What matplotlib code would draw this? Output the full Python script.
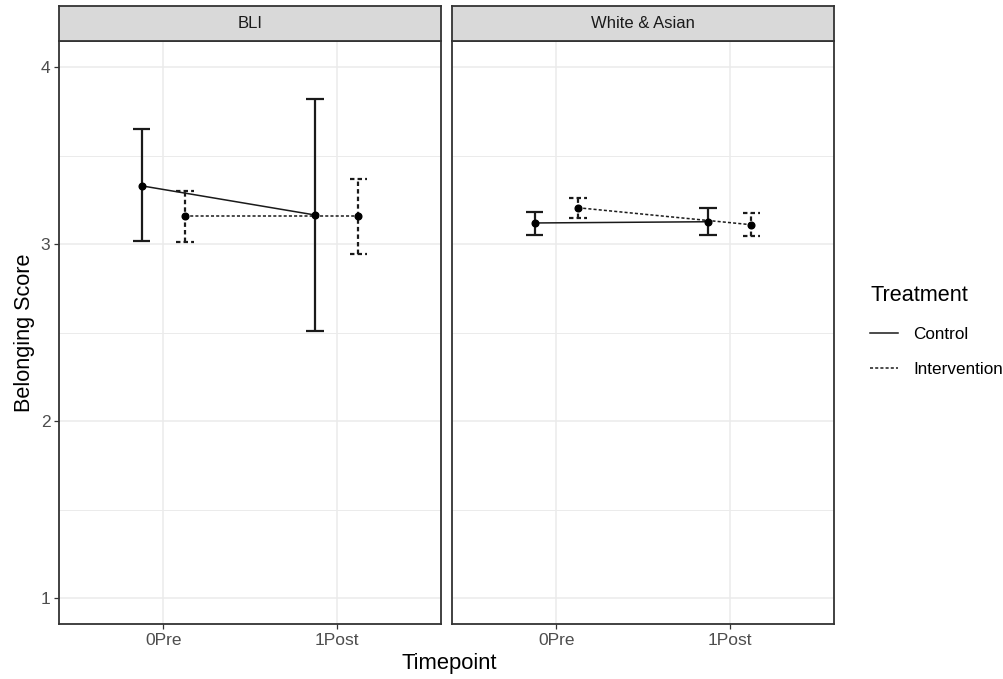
import matplotlib

matplotlib.use("Agg")
import matplotlib.pyplot as plt
from matplotlib.lines import Line2D

plt.rcParams["font.family"] = ["Liberation Sans", "DejaVu Sans"]

# data
timepoints = ["0Pre", "1Post"]
groups = ["BLI", "White & Asian"]
treatments = ["Control", "Intervention"]

bli_control_mean = [3.33, 3.165]
bli_control_lo = [3.02, 2.51]
bli_control_hi = [3.65, 3.82]
bli_interv_mean = [3.16, 3.16]
bli_interv_lo = [3.01, 2.945]
bli_interv_hi = [3.30, 3.37]

wa_control_mean = [3.12, 3.127]
wa_control_lo = [3.054, 3.051]
wa_control_hi = [3.184, 3.203]
wa_interv_mean = [3.206, 3.11]
wa_interv_lo = [3.147, 3.047]
wa_interv_hi = [3.26, 3.176]

y_ticks = [1, 2, 3, 4]

panel_data = {
    "BLI": {
        "Control": (bli_control_mean, bli_control_lo, bli_control_hi),
        "Intervention": (bli_interv_mean, bli_interv_lo, bli_interv_hi),
    },
    "White & Asian": {
        "Control": (wa_control_mean, wa_control_lo, wa_control_hi),
        "Intervention": (wa_interv_mean, wa_interv_lo, wa_interv_hi),
    },
}

STYLES = {
    "Control": "-",
    "Intervention": (0, (2.0, 1.4)),
}
DODGE = {"Control": -0.125, "Intervention": 0.125}
INK = "#1a1a1a"
FRAME = "#333333"
GRID = "#EBEBEB"


def draw_panel(ax, group):
    xs_base = [i + 1 for i in range(len(timepoints))]
    for treat in treatments:
        mean, lo, hi = panel_data[group][treat]
        ls = STYLES[treat]
        xs = [x + DODGE[treat] for x in xs_base]
        for x, m, l, h in zip(xs, mean, lo, hi):
            ax.plot([x, x], [l, h], color=INK, lw=1.6, linestyle=ls,
                    solid_capstyle="butt", zorder=3)
            for cap in (l, h):
                ax.plot([x - 0.05, x + 0.05], [cap, cap], color=INK, lw=1.6,
                        linestyle=ls, solid_capstyle="butt", zorder=3)
        ax.plot(xs, mean, color=INK, lw=1.1, linestyle=ls, zorder=3)
        ax.plot(xs, mean, "o", color="black", markersize=4.8, zorder=4)

    ax.set_xlim(0.4, 2.6)
    ax.set_ylim(0.853, 4.147)
    ax.set_xticks(xs_base)
    ax.set_xticklabels(timepoints)
    ax.set_yticks(y_ticks)
    ax.set_yticks([1.5, 2.5, 3.5], minor=True)
    ax.grid(True, which="major", color=GRID, lw=1.1, zorder=0)
    ax.grid(True, which="minor", axis="y", color=GRID, lw=0.7, zorder=0)
    ax.tick_params(which="minor", length=0)
    ax.tick_params(which="major", length=3.5, width=0.9, color=FRAME,
                   labelsize=12.5, labelcolor="#4d4d4d", pad=3)
    ax.set_axisbelow(True)
    for sp in ax.spines.values():
        sp.set_color(FRAME)
        sp.set_linewidth(1.3)


def main():
    W, H = 1004, 679
    fig = plt.figure(figsize=(W / 100, H / 100), dpi=100)
    lefts = [59.3, 452.3]
    pw = 381.5
    top_px, bottom_px, strip_top = 41.3, 624.0, 6.3
    for i, group in enumerate(groups):
        ax = fig.add_axes([lefts[i] / W, 1 - bottom_px / H, pw / W,
                           (bottom_px - top_px) / H])
        draw_panel(ax, group)
        if i > 0:
            ax.tick_params(axis="y", labelleft=False, length=0)

        sax = fig.add_axes([lefts[i] / W, 1 - top_px / H, pw / W,
                            (top_px - strip_top) / H])
        sax.set_facecolor("#D9D9D9")
        sax.set_xticks([])
        sax.set_yticks([])
        for sp in sax.spines.values():
            sp.set_color(FRAME)
            sp.set_linewidth(1.3)
        sax.text(0.5, 0.5, group, ha="center", va="center", fontsize=12,
                 color="#1a1a1a", transform=sax.transAxes)

    fig.text(449 / W, 1 - 664 / H, "Timepoint", ha="center", va="center",
             fontsize=15.8)
    fig.text(25 / W, 1 - 333 / H, "Belonging Score", ha="center",
             va="center", rotation=90, fontsize=15.6)

    handles = [Line2D([], [], color=INK, lw=1.1, linestyle=STYLES[t])
               for t in treatments]
    fig.legend(handles, treatments, title="Treatment",
               loc="upper left", bbox_to_anchor=(855 / W, 1 - 270 / H),
               frameon=False, fontsize=12.3, title_fontsize=15.6,
               handlelength=1.6, handletextpad=0.9, labelspacing=1.2,
               alignment="left")
    fig.savefig("out.png", dpi=100)
    plt.close(fig)


if __name__ == "__main__":
    main()
